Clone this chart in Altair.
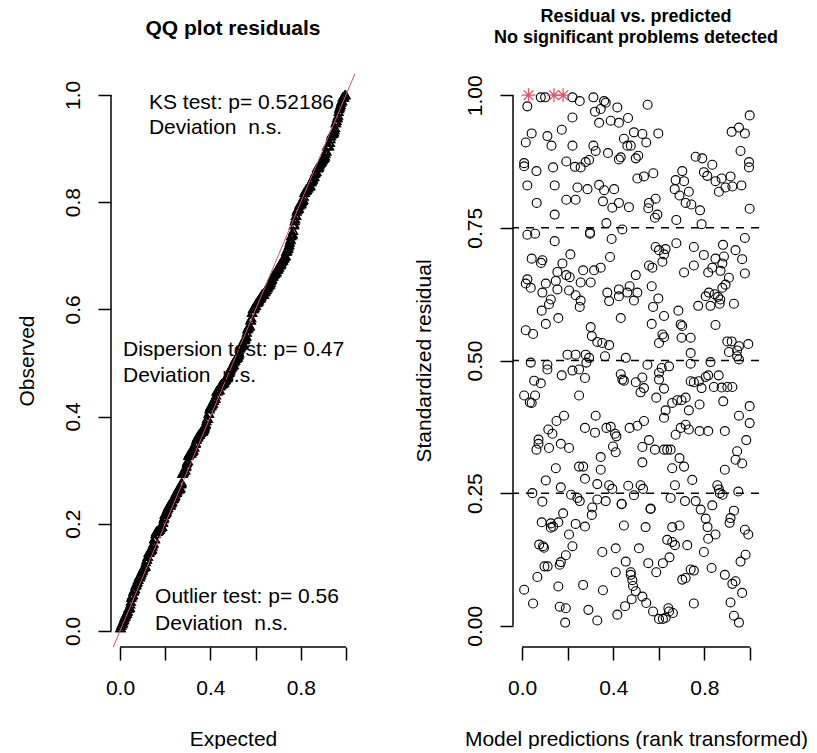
import altair as alt
import pandas as pd

FONT = "Liberation Sans"
RED = "#DF536B"

# Scaled residuals: (rank-transformed model prediction, standardized residual)
# grouped into horizontal bands from the top of the plot downwards.
band_a = [(0.082,0.996),(0.101,0.996),(0.221,0.996),(0.253,0.989),(0.313,0.996),(0.360,0.989),(0.367,0.986),
          (0.418,0.977),(0.551,0.982),(0.023,0.979),(0.320,0.969),(0.345,0.974),(0.221,0.958),(0.338,0.948),
          (0.389,0.952),(0.425,0.948),(0.465,0.957),(0.999,0.962),(0.174,0.935),(0.042,0.928),(0.016,0.911),
          (0.111,0.923),(0.129,0.905),(0.221,0.905),(0.313,0.905),(0.323,0.895),(0.377,0.891),(0.447,0.918),
          (0.491,0.930),(0.528,0.927),(0.545,0.911),(0.598,0.928),(0.462,0.905),(0.477,0.905),(0.425,0.879),
          (0.433,0.883),(0.499,0.881),(0.510,0.886),(0.920,0.931),(0.952,0.939),(0.978,0.928),(0.959,0.895),
          (0.009,0.872),(0.009,0.866),(0.063,0.857),(0.136,0.864),(0.194,0.875),(0.232,0.865),(0.257,0.864),
          (0.279,0.874),(0.294,0.878),(0.762,0.884),(0.791,0.881),(0.835,0.869),(0.996,0.874),(0.996,0.864),
          (0.703,0.857),(0.798,0.855),(0.813,0.848),(0.506,0.843),(0.535,0.847),(0.576,0.853),(0.674,0.840),
          (0.711,0.838),(0.849,0.838),(0.876,0.843),(0.915,0.847),(0.023,0.830),(0.143,0.830),(0.243,0.826),
          (0.287,0.823),(0.338,0.831),(0.360,0.821),(0.404,0.823),(0.670,0.823),(0.691,0.811),(0.732,0.818),
          (0.718,0.797),(0.864,0.818),(0.893,0.826),(0.923,0.828),(0.963,0.830),(0.064,0.797),(0.194,0.803),
          (0.235,0.803),(0.355,0.800),(0.396,0.788),(0.425,0.797),(0.469,0.789),(0.557,0.797),(0.586,0.805),
          (0.554,0.787),(0.594,0.775),(0.583,0.769),(0.743,0.794),(0.781,0.783),(0.999,0.786),(0.143,0.775),
          (0.370,0.759),(0.677,0.765),(0.788,0.757)]

band_b = [(0.023,0.737),(0.057,0.739),(0.298,0.739),(0.298,0.741),(0.440,0.747),(0.143,0.725),(0.393,0.729),
          (0.978,0.731),(0.212,0.700),(0.042,0.692),(0.089,0.689),(0.083,0.684),(0.177,0.683),(0.155,0.667),
          (0.194,0.661),(0.209,0.657),(0.268,0.670),(0.316,0.670),(0.345,0.675),(0.386,0.695),(0.586,0.714),
          (0.601,0.708),(0.630,0.710),(0.623,0.700),(0.616,0.686),(0.557,0.679),(0.572,0.675),(0.677,0.721),
          (0.754,0.714),(0.798,0.699),(0.882,0.718),(0.849,0.692),(0.886,0.696),(0.937,0.708),(0.966,0.691),
          (0.754,0.679),(0.711,0.666),(0.817,0.666),(0.835,0.675),(0.879,0.683),(0.871,0.669),(0.978,0.664),
          (0.499,0.661),(0.908,0.656)]

band_c = [(0.023,0.653),(0.016,0.645),(0.038,0.637),(0.104,0.645),(0.089,0.628),(0.126,0.615),(0.118,0.606),
          (0.086,0.594),(0.148,0.650),(0.155,0.634),(0.104,0.569),(0.159,0.580),(0.206,0.632),(0.235,0.623),
          (0.257,0.613),(0.253,0.601),(0.257,0.647),(0.301,0.647),(0.016,0.557),(0.048,0.550),(0.301,0.563),
          (0.306,0.546),(0.330,0.535),(0.352,0.533),(0.382,0.529),(0.433,0.580),(0.374,0.628),(0.382,0.612),
          (0.425,0.634),(0.425,0.621),(0.462,0.628),(0.472,0.640),(0.491,0.613),(0.506,0.628),(0.569,0.640),
          (0.598,0.617),(0.575,0.601),(0.623,0.584),(0.569,0.569),(0.686,0.594),(0.696,0.568),(0.703,0.565),
          (0.616,0.549),(0.623,0.544),(0.601,0.533),(0.700,0.543),(0.740,0.543),(0.740,0.514),(0.773,0.603),
          (0.806,0.621),(0.820,0.628),(0.827,0.603),(0.845,0.625),(0.860,0.620),(0.870,0.615),(0.867,0.607),
          (0.879,0.637),(0.893,0.643),(0.930,0.607),(0.849,0.567),(0.901,0.536),(0.920,0.536),(0.952,0.527),
          (0.993,0.531),(0.908,0.516),(0.944,0.519),(0.944,0.508),(0.038,0.496),(0.111,0.492),(0.111,0.483),
          (0.199,0.511),(0.235,0.511),(0.279,0.511),(0.294,0.505),(0.282,0.496),(0.221,0.481),(0.250,0.483),
          (0.364,0.508),(0.455,0.505),(0.550,0.492),(0.613,0.486),(0.645,0.489),(0.740,0.494),(0.827,0.497),
          (0.952,0.502)]

band_d = [(0.174,0.472),(0.276,0.467),(0.053,0.462),(0.082,0.457),(0.009,0.434),(0.034,0.421),(0.057,0.434),
          (0.042,0.420),(0.250,0.434),(0.433,0.474),(0.447,0.462),(0.440,0.464),(0.499,0.459),(0.528,0.468),
          (0.535,0.448),(0.520,0.440),(0.601,0.477),(0.601,0.464),(0.623,0.447),(0.589,0.430),(0.740,0.461),
          (0.754,0.459),(0.776,0.461),(0.788,0.448),(0.806,0.469),(0.817,0.472),(0.863,0.472),(0.842,0.450),
          (0.876,0.449),(0.901,0.450),(0.923,0.450),(0.883,0.423),(0.630,0.406),(0.659,0.420),(0.681,0.425),
          (0.700,0.425),(0.718,0.430),(0.732,0.406),(0.779,0.417),(0.623,0.392),(0.999,0.414),(0.952,0.396),
          (0.999,0.382),(0.184,0.396),(0.151,0.386),(0.115,0.370),(0.133,0.362),(0.323,0.396),(0.276,0.373),
          (0.320,0.364),(0.370,0.373),(0.389,0.375),(0.408,0.362),(0.414,0.357),(0.472,0.373),(0.506,0.377),
          (0.535,0.386),(0.674,0.360),(0.696,0.373),(0.718,0.379),(0.732,0.370),(0.779,0.367),(0.817,0.367),
          (0.890,0.367),(0.072,0.351),(0.072,0.343),(0.063,0.332),(0.118,0.335),(0.170,0.343),(0.206,0.335),
          (0.399,0.338),(0.411,0.327),(0.528,0.337),(0.557,0.350),(0.583,0.332),(0.623,0.332),(0.637,0.332),
          (0.652,0.332),(0.984,0.350),(0.944,0.329),(0.345,0.318),(0.528,0.308),(0.691,0.316),(0.937,0.313),
          (0.966,0.306)]

band_e = [(0.148,0.297),(0.250,0.300),(0.268,0.300),(0.345,0.294),(0.659,0.297),(0.711,0.300),(0.890,0.294),
          (0.104,0.274),(0.276,0.277),(0.330,0.267),(0.382,0.265),(0.396,0.258),(0.466,0.264),(0.520,0.265),
          (0.531,0.258),(0.671,0.265),(0.747,0.275),(0.857,0.265),(0.864,0.257),(0.045,0.250),(0.170,0.261),
          (0.215,0.247),(0.243,0.241),(0.253,0.235),(0.089,0.234),(0.330,0.238),(0.367,0.235),(0.308,0.223),
          (0.306,0.209),(0.437,0.230),(0.437,0.229),(0.491,0.246),(0.564,0.221),(0.564,0.220),(0.652,0.241),
          (0.715,0.235),(0.762,0.235),(0.784,0.219),(0.806,0.202),(0.814,0.186),(0.835,0.227),(0.849,0.172),
          (0.817,0.164),(0.868,0.250),(0.880,0.247),(0.949,0.253),(0.930,0.217),(0.915,0.203),(0.911,0.194),
          (0.978,0.181),(0.993,0.172),(0.126,0.185),(0.086,0.195),(0.126,0.193),(0.136,0.187),(0.159,0.195),
          (0.180,0.212),(0.235,0.192),(0.276,0.187),(0.206,0.172),(0.447,0.189),(0.542,0.186),(0.659,0.186),
          (0.691,0.189),(0.075,0.153),(0.096,0.147),(0.092,0.150),(0.221,0.150),(0.192,0.133),(0.170,0.120),
          (0.352,0.139),(0.411,0.146),(0.513,0.146),(0.637,0.162),(0.659,0.158),(0.671,0.152),(0.647,0.129),
          (0.725,0.152),(0.798,0.139),(0.981,0.134),(0.959,0.121)]

band_f = [(0.098,0.112),(0.112,0.112),(0.165,0.115),(0.455,0.121),(0.554,0.118),(0.618,0.118),(0.411,0.101),
          (0.477,0.101),(0.477,0.096),(0.589,0.101),(0.740,0.106),(0.754,0.104),(0.718,0.090),(0.703,0.087),
          (0.832,0.109),(0.890,0.096),(0.937,0.084),(0.923,0.079),(0.966,0.062),(0.067,0.092),(0.009,0.068),
          (0.159,0.074),(0.268,0.077),(0.355,0.067),(0.484,0.086),(0.487,0.075),(0.499,0.065),(0.528,0.055),
          (0.545,0.043),(0.575,0.027),(0.601,0.013),(0.618,0.013),(0.630,0.015),(0.642,0.033),(0.645,0.027),
          (0.662,0.024),(0.481,0.050),(0.452,0.037),(0.418,0.021),(0.048,0.042),(0.165,0.036),(0.192,0.033),
          (0.189,0.006),(0.291,0.030),(0.330,0.010),(0.754,0.042),(0.915,0.044),(0.930,0.019),(0.952,0.006)]

# simulation outliers (residual at the boundary)
outliers = [(0.028,1.0),(0.140,1.0),(0.180,1.0)]

quantile_levels = [0.25, 0.5, 0.75]

qq_title = "QQ plot residuals"
rv_title = ["Residual vs. predicted", "No significant problems detected"]
ks_lines = ["KS test: p= 0.52186", "Deviation\u00a0 n.s."]
disp_lines = ["Dispersion test: p= 0.47", "Deviation\u00a0 n.s."]
outl_lines = ["Outlier test: p= 0.56", "Deviation\u00a0 n.s."]

rows = []
for band in (band_a, band_b, band_c, band_d, band_e, band_f):
    rows += [{"pred": p, "resid": r, "outlier": False} for p, r in band]
rows += [{"pred": p, "resid": r, "outlier": True} for p, r in outliers]
df = pd.DataFrame(rows)
one = pd.DataFrame({"k": [0]})

W_L, W_R, H = 244, 246, 573
FS = 21


def axis_x(title, tpad=30):
    return alt.Axis(values=[0, 0.2, 0.4, 0.6, 0.8, 1.0], title=title,
                    labelExpr="(abs(datum.value-0.2)<0.01 || abs(datum.value-0.6)<0.01 || abs(datum.value-1)<0.01) ? '' : format(datum.value, '.1f')",
                    domain=False, grid=False, tickSize=13, tickWidth=1.5, tickColor="black",
                    labelFont=FONT, labelFontSize=FS, labelColor="black", labelPadding=17,
                    labelOverlap=False, labelFlush=False,
                    titleFont=FONT, titleFontSize=FS, titleFontWeight="normal", titleColor="black",
                    titlePadding=tpad)


def axis_y(values, fmt, title, tpad):
    return alt.Axis(values=values, format=fmt, title=title,
                    domain=False, grid=False, tickSize=13, tickWidth=1.5, tickColor="black",
                    labelAngle=270, labelAlign="center", labelBaseline="bottom", labelPadding=15,
                    labelFont=FONT, labelFontSize=FS, labelColor="black",
                    labelOverlap=False, labelFlush=False,
                    titleFont=FONT, titleFontSize=FS, titleFontWeight="normal", titleColor="black",
                    titlePadding=tpad)


# ---------------- left panel: uniform QQ plot of the residuals ----------------
xs_l = alt.Scale(domain=[-0.04, 1.04], nice=False, zero=False)
ys_l = alt.Scale(domain=[-0.03, 1.039], nice=False, zero=False)
ax_xl = axis_x("Expected")
ax_yl = axis_y([0, 0.2, 0.4, 0.6, 0.8, 1.0], ".1f", "Observed", 25)

qq_points = alt.Chart(df).transform_window(
    rank="row_number()", sort=[alt.SortField("resid")]
).transform_joinaggregate(n="count()").transform_calculate(
    expected="(datum.rank - 0.5) / datum.n"
).mark_point(shape="triangle-up", filled=False, color="black", size=70, strokeWidth=1.6, opacity=1).encode(
    x=alt.X("expected:Q", scale=xs_l, axis=ax_xl),
    y=alt.Y("resid:Q", scale=ys_l, axis=ax_yl),
)

diag = alt.Chart(one).mark_rule(color=RED, strokeWidth=1, clip=True).encode(
    x=alt.datum(-0.1), y=alt.datum(-0.1), x2=alt.datum(1.1), y2=alt.datum(1.1)
)

yline_l = alt.Chart(one).mark_rule(color="black", strokeWidth=1.5).encode(
    x=alt.value(0), y=alt.datum(0), y2=alt.datum(1))
xline_l = alt.Chart(one).mark_rule(color="black", strokeWidth=1.5).encode(
    y=alt.value(H), x=alt.datum(0), x2=alt.datum(1))


def note(x, y, text):
    return alt.Chart(one).mark_text(align="left", baseline="middle", font=FONT, fontSize=FS,
                                    color="black").encode(
        x=alt.datum(x), y=alt.datum(y), text=alt.value(text))


notes = [
    note(0.128, 0.985, ks_lines[0]), note(0.128, 0.938, ks_lines[1]),
    note(0.013, 0.524, disp_lines[0]), note(0.013, 0.476, disp_lines[1]),
    note(0.155, 0.063, outl_lines[0]), note(0.155, 0.013, outl_lines[1]),
]

left = alt.layer(qq_points, diag, yline_l, xline_l, *notes).properties(
    width=W_L, height=H,
    title=alt.TitleParams(qq_title, font=FONT, fontSize=21, fontWeight="bold", color="black",
                          anchor="middle", baseline="bottom", offset=14, frame="group"),
)

# ---------------- right panel: residuals vs. predicted ----------------
xs_r = alt.Scale(domain=[-0.04, 1.04], nice=False, zero=False)
ys_r = alt.Scale(domain=[-0.04, 1.04], nice=False, zero=False)
ax_xr = axis_x("Model predictions (rank transformed)")
ax_yr = axis_y([0, 0.25, 0.5, 0.75, 1.0], ".2f", "Standardized residual", 30)

circles = alt.Chart(df).transform_filter("!datum.outlier").mark_point(
    shape="circle", filled=False, color="black", size=80, strokeWidth=1.1, opacity=1
).encode(
    x=alt.X("pred:Q", scale=xs_r, axis=ax_xr),
    y=alt.Y("resid:Q", scale=ys_r, axis=ax_yr),
)

stars = alt.Chart(df).transform_filter("datum.outlier").mark_point(
    shape="M-1,0L1,0M0,-1L0,1M-0.7,-0.7L0.7,0.7M-0.7,0.7L0.7,-0.7",
    filled=False, color=RED, size=190, strokeWidth=1.3, opacity=1
).encode(x=alt.X("pred:Q", scale=xs_r), y=alt.Y("resid:Q", scale=ys_r))

levels = alt.Chart(pd.DataFrame({"level": quantile_levels})).mark_rule(
    color="black", strokeWidth=1.5, strokeDash=[8, 7]
).encode(y=alt.Y("level:Q", scale=ys_r, axis=ax_yr))

yline_r = alt.Chart(one).mark_rule(color="black", strokeWidth=1.5).encode(
    x=alt.value(0), y=alt.datum(0), y2=alt.datum(1))
xline_r = alt.Chart(one).mark_rule(color="black", strokeWidth=1.5).encode(
    y=alt.value(H), x=alt.datum(0), x2=alt.datum(1))

right = alt.layer(levels, circles, stars, yline_r, xline_r).properties(
    width=W_R, height=H,
    title=alt.TitleParams(rv_title, font=FONT, fontSize=18, fontWeight="bold", color="black",
                          anchor="middle", baseline="bottom", offset=9, lineHeight=21, frame="group"),
)

chart = alt.hconcat(left, right, spacing=58).properties(
    padding={"left": 15, "top": 8, "right": 0, "bottom": 0},
    background="white",
).configure_view(stroke=None)

chart.save("out.html", embed_options={"renderer": "svg", "actions": False})
